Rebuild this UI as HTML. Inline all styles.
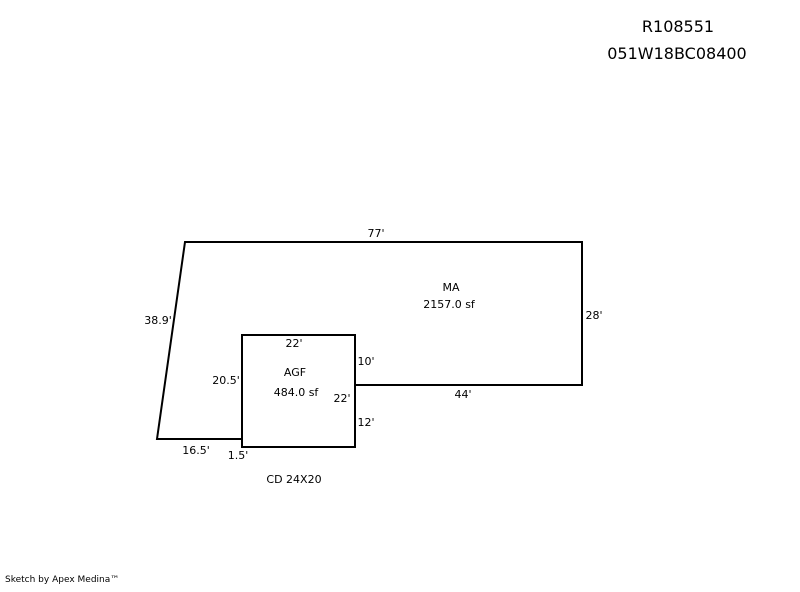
<!DOCTYPE html>
<html><head><style>
html,body{margin:0;padding:0;background:#fff;}
svg text{font-family:"DejaVu Sans","Liberation Sans",sans-serif;fill:#000;}
</style></head><body>
<svg width="800" height="587" viewBox="0 0 800 587" xmlns="http://www.w3.org/2000/svg">
<g stroke="#000" stroke-width="2" fill="none" stroke-linecap="square">
<polyline points="242,439 157,439 185,242 582,242 582,385 355,385"/>
<rect x="242" y="335" width="113" height="112"/>
</g>
<g font-size="16" text-anchor="middle">
<text x="678" y="32">R108551</text>
<text x="677" y="59">051W18BC08400</text>
</g>
<g font-size="11" text-anchor="middle">
<text x="376" y="237">77'</text>
<text x="451" y="291">MA</text>
<text x="449" y="308">2157.0 sf</text>
<text x="594" y="319">28'</text>
<text x="158" y="324">38.9'</text>
<text x="294" y="347">22'</text>
<text x="366" y="365">10'</text>
<text x="295" y="376">AGF</text>
<text x="226" y="384">20.5'</text>
<text x="296" y="396">484.0 sf</text>
<text x="342" y="402">22'</text>
<text x="463" y="398">44'</text>
<text x="366" y="426">12'</text>
<text x="196" y="454">16.5'</text>
<text x="238" y="459">1.5'</text>
<text x="294" y="483">CD 24X20</text>
</g>
<text x="5" y="582" font-size="9">Sketch by Apex Medina™</text>
</svg>
</body></html>
